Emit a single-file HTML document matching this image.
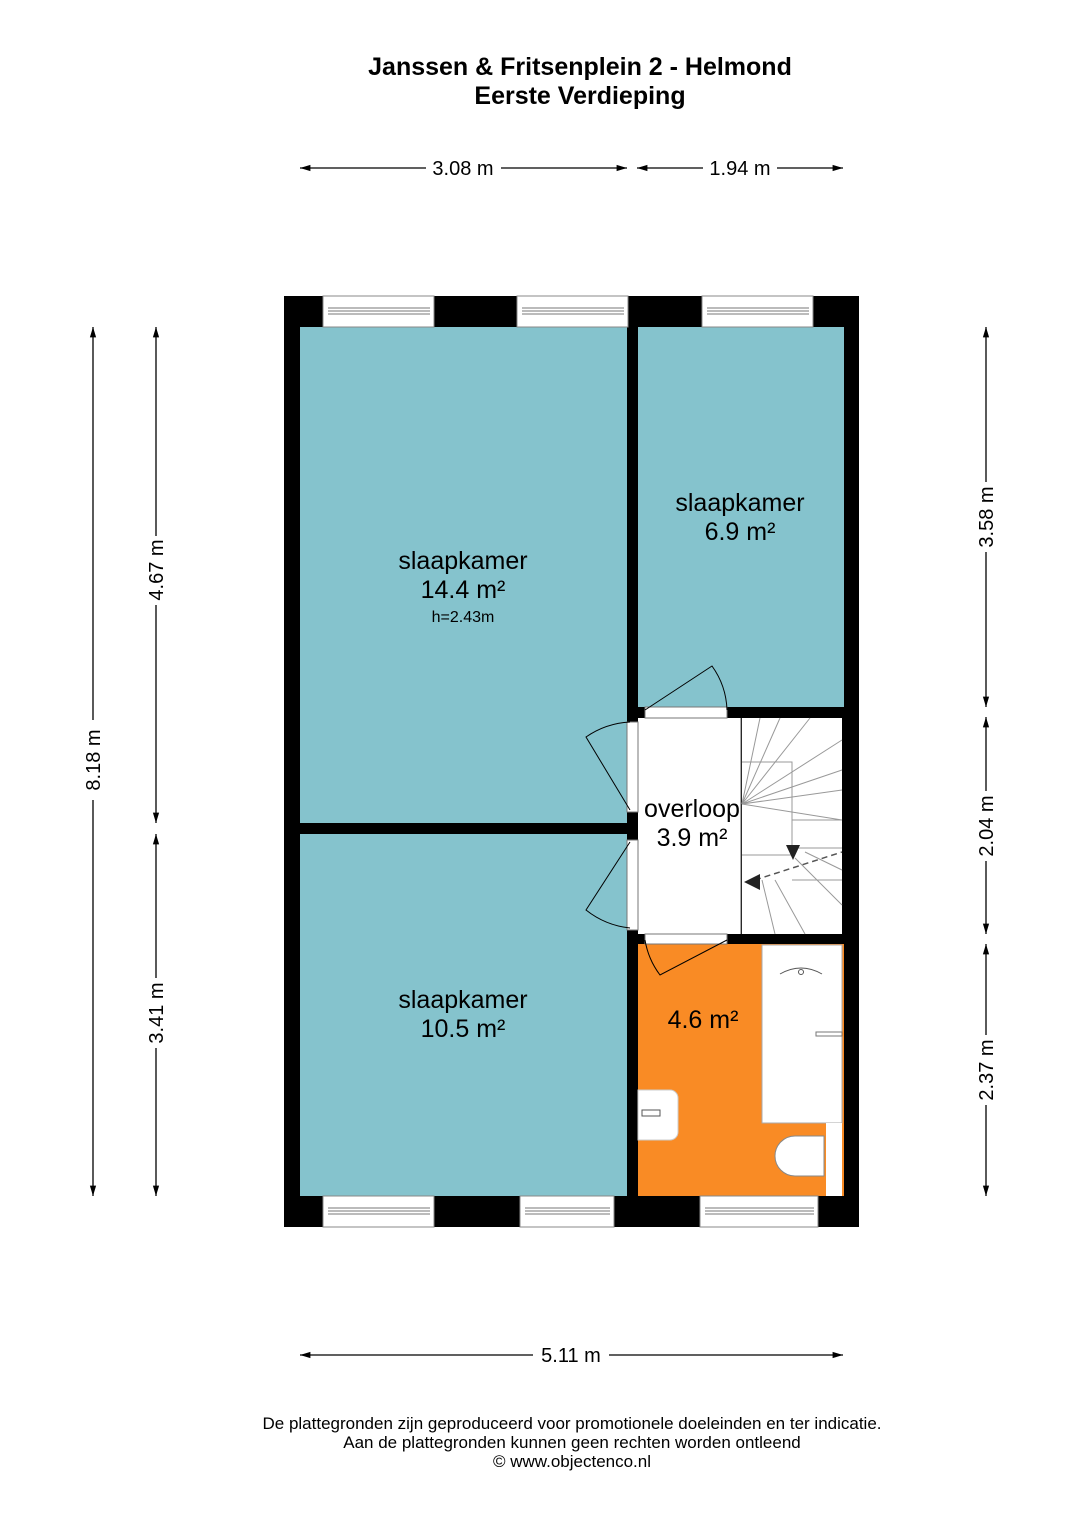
<!DOCTYPE html>
<html><head><meta charset="utf-8"><style>
body{margin:0;background:#fff}
svg{display:block;font-family:"Liberation Sans",sans-serif}
</style></head><body>
<svg width="1080" height="1527" viewBox="0 0 1080 1527" xmlns="http://www.w3.org/2000/svg">
<defs>
<marker id="a" viewBox="0 0 10 10" refX="10" refY="5" markerWidth="8" markerHeight="8" orient="auto-start-reverse"><path d="M0,2 L10,5 L0,8z" fill="#000"/></marker>
</defs>
<text x="580" y="75" text-anchor="middle" font-size="25" font-weight="bold">Janssen &amp; Fritsenplein 2 - Helmond</text>
<text x="580" y="104" text-anchor="middle" font-size="25" font-weight="bold">Eerste Verdieping</text>

<g stroke="#000" stroke-width="1.3" fill="none">
<line x1="300" y1="168" x2="426" y2="168" marker-start="url(#a)"/><line x1="501" y1="168" x2="627" y2="168" marker-end="url(#a)"/>
<line x1="637" y1="168" x2="703" y2="168" marker-start="url(#a)"/><line x1="777" y1="168" x2="843" y2="168" marker-end="url(#a)"/>
<line x1="300" y1="1355" x2="533" y2="1355" marker-start="url(#a)"/><line x1="609" y1="1355" x2="843" y2="1355" marker-end="url(#a)"/>
<line x1="93" y1="327" x2="93" y2="720" marker-start="url(#a)"/><line x1="93" y1="800" x2="93" y2="1196" marker-end="url(#a)"/>
<line x1="156" y1="327" x2="156" y2="536" marker-start="url(#a)"/><line x1="156" y1="605" x2="156" y2="823" marker-end="url(#a)"/>
<line x1="156" y1="834" x2="156" y2="978" marker-start="url(#a)"/><line x1="156" y1="1048" x2="156" y2="1196" marker-end="url(#a)"/>
<line x1="986" y1="327" x2="986" y2="482" marker-start="url(#a)"/><line x1="986" y1="552" x2="986" y2="707" marker-end="url(#a)"/>
<line x1="986" y1="717" x2="986" y2="791" marker-start="url(#a)"/><line x1="986" y1="861" x2="986" y2="934" marker-end="url(#a)"/>
<line x1="986" y1="944" x2="986" y2="1035" marker-start="url(#a)"/><line x1="986" y1="1105" x2="986" y2="1196" marker-end="url(#a)"/>
</g>
<g font-size="20" text-anchor="middle">
<text x="463" y="175">3.08 m</text><text x="740" y="175">1.94 m</text><text x="571" y="1362">5.11 m</text>
<text transform="translate(100,760) rotate(-90)">8.18 m</text>
<text transform="translate(163,570) rotate(-90)">4.67 m</text>
<text transform="translate(163,1013) rotate(-90)">3.41 m</text>
<text transform="translate(993,517) rotate(-90)">3.58 m</text>
<text transform="translate(993,826) rotate(-90)">2.04 m</text>
<text transform="translate(993,1070) rotate(-90)">2.37 m</text>
</g>

<rect x="284" y="296" width="575" height="931" fill="#000"/>
<rect x="300" y="327" width="327" height="496" fill="#85c3cd"/>
<rect x="300" y="834" width="327" height="362" fill="#85c3cd"/>
<rect x="638" y="327" width="206" height="380" fill="#85c3cd"/>
<rect x="638" y="718" width="103" height="216" fill="#fff"/>
<rect x="742" y="718" width="100" height="216" fill="#fff"/>
<rect x="638" y="944" width="206" height="252" fill="#f98b25"/>
<g fill="#fff" stroke="#888" stroke-width="1">
<rect x="323" y="296" width="111" height="31"/><rect x="517" y="296" width="111" height="31"/><rect x="702" y="296" width="111" height="31"/>
<rect x="323" y="1196" width="111" height="31"/><rect x="520" y="1196" width="94" height="31"/><rect x="700" y="1196" width="118" height="31"/>
</g>
<g stroke="#777" stroke-width="1" fill="none">
<path d="M328,308H430M328,311H430M328,314H430M522,308H624M522,311H624M522,314H624M707,308H809M707,311H809M707,314H809"/>
<path d="M328,1208H430M328,1211H430M328,1214H430M525,1208H610M525,1211H610M525,1214H610M705,1208H814M705,1211H814M705,1214H814"/>
</g>
<rect x="645" y="707" width="82" height="11" fill="#fff" stroke="#777"/>
<rect x="645" y="934" width="82" height="10" fill="#fff" stroke="#777"/>
<rect x="627" y="722" width="11" height="90" fill="#fff" stroke="#777"/>
<rect x="627" y="840" width="11" height="90" fill="#fff" stroke="#777"/>
<g stroke="#000" stroke-width="1" fill="none">
<path d="M645,710 L712,666 A80,80 0 0 1 727,710"/>
<path d="M727,940 L660,975 A80,80 0 0 1 645,940"/>
<path d="M630,810 L586,737 A85,85 0 0 1 630,722"/>
<path d="M630,842 L586,910 A85,85 0 0 0 630,928"/>
</g>
<g stroke="#999" stroke-width="1" fill="none">
<line x1="741" y1="718" x2="741" y2="934" stroke="#555"/>
<path d="M742,804 L760,718M742,804 L780,718M742,804 L810,718M742,804 L842,740M742,804 L842,770M742,804 L842,790M742,804 L842,820"/>
<path d="M742,762H792V855H742M792,820H842M792,848H842M792,880H842"/>
<path d="M762,880 L775,934M775,880 L805,934M795,858 L842,905M805,852 L842,870"/>
</g>
<path d="M755,880 L842,852" stroke="#555" stroke-width="1.5" stroke-dasharray="6,4"/>
<path d="M786,845 L800,845 L793,860z M744,882 L760,874 L760,890z" fill="#222"/>
<rect x="762" y="945" width="80" height="178" fill="#fff" stroke="#aaa"/>
<path d="M780,974 Q801,962 822,974" stroke="#555" fill="none"/><circle cx="801" cy="972" r="2.5" fill="none" stroke="#555"/>
<rect x="816" y="1032" width="26" height="4" fill="none" stroke="#777"/>
<rect x="826" y="1123" width="16" height="73" fill="#fff"/>
<path d="M824,1136 H795 A20,20 0 0 0 795,1176 H824z" fill="#fff" stroke="#888"/>
<path d="M638,1090 H670 A8,8 0 0 1 678,1098 V1132 A8,8 0 0 1 670,1140 H638z" fill="#fff" stroke="#ccc"/>
<rect x="642" y="1110" width="18" height="6" fill="none" stroke="#555"/>

<g text-anchor="middle" font-size="25">
<text x="463" y="569">slaapkamer</text><text x="463" y="598">14.4 m²</text>
<text x="463" y="622" font-size="16">h=2.43m</text>
<text x="740" y="511">slaapkamer</text><text x="740" y="540">6.9 m²</text>
<text x="692" y="817">overloop</text><text x="692" y="846">3.9 m²</text>
<text x="463" y="1008">slaapkamer</text><text x="463" y="1037">10.5 m²</text>
<text x="703" y="1028">4.6 m²</text>
</g>
<g text-anchor="middle" font-size="17">
<text x="572" y="1429">De plattegronden zijn geproduceerd voor promotionele doeleinden en ter indicatie.</text>
<text x="572" y="1448">Aan de plattegronden kunnen geen rechten worden ontleend</text>
<text x="572" y="1467">© www.objectenco.nl</text>
</g>
</svg>
</body></html>
